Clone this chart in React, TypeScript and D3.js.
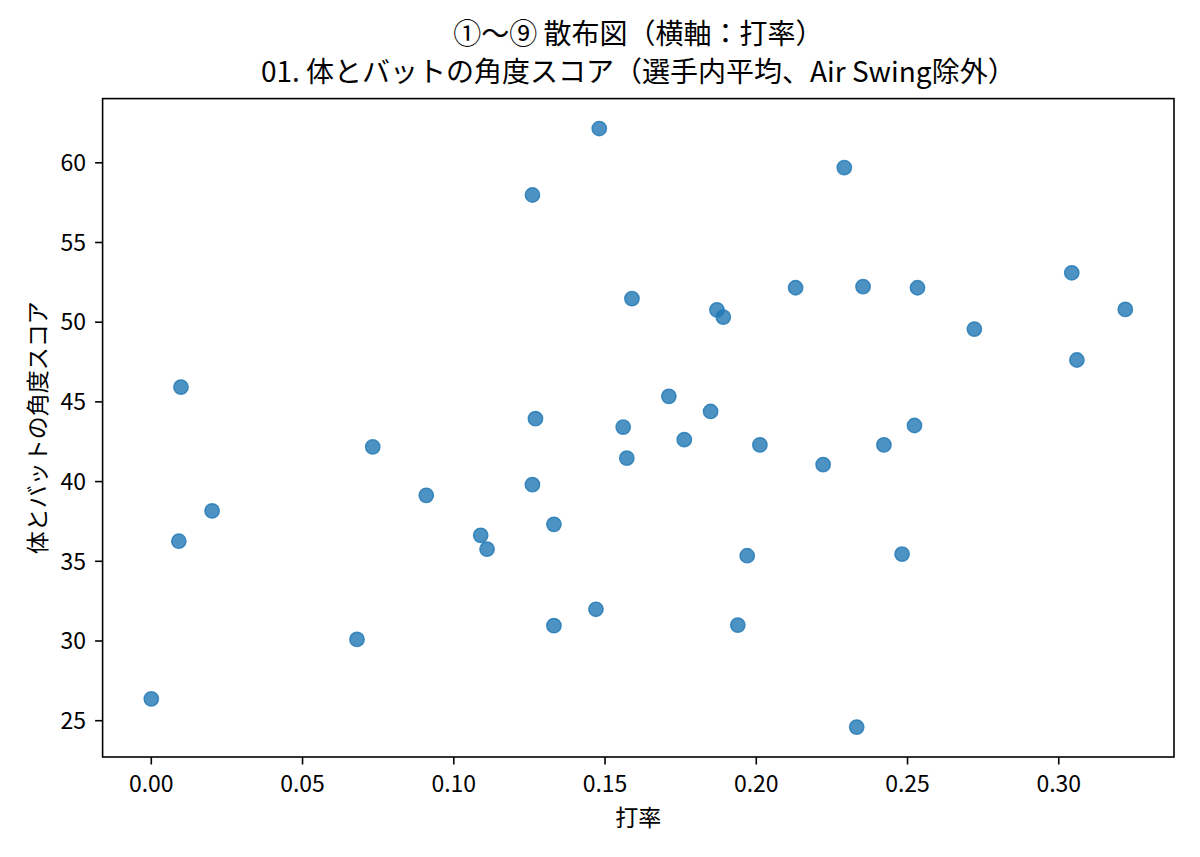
import React from "react";
import * as d3 from "d3";

const titleLines = ["①〜⑨ 散布図（横軸：打率）", "01. 体とバットの角度スコア（選手内平均、Air Swing除外）"];
const xLabel = "打率";
const yLabel = "体とバットの角度スコア";

const battingAvg = [
  0.0, 0.0091, 0.0098, 0.0201, 0.068, 0.0732, 0.0909, 0.1089, 0.111, 0.126,
  0.126, 0.127, 0.1331, 0.1331, 0.147, 0.1481, 0.156, 0.1572, 0.1589, 0.1711,
  0.1762, 0.1849, 0.187, 0.1891, 0.1939, 0.197, 0.2012, 0.213, 0.2221, 0.2291,
  0.2332, 0.2353, 0.2422, 0.2482, 0.2523, 0.2533, 0.2721, 0.3043, 0.306, 0.322,
];
const angleScore = [
  26.37, 36.26, 45.93, 38.16, 30.1, 42.18, 39.14, 36.63, 35.76, 57.98,
  39.81, 43.95, 37.32, 30.96, 31.99, 62.15, 43.42, 41.47, 51.48, 45.35,
  42.63, 44.4, 50.77, 50.32, 31.0, 35.35, 42.3, 52.16, 41.07, 59.7,
  24.6, 52.23, 42.3, 35.45, 43.52, 52.16, 49.57, 53.1, 47.63, 50.8,
];
const xTicks = [0, 0.05, 0.1, 0.15, 0.2, 0.25, 0.3];
const yTicks = [25, 30, 35, 40, 45, 50, 55, 60];

const W = 1200;
const H = 857;
const left = 102.6;
const right = 1174;
const top = 98.6;
const bottom = 757;
const FONT = "'Noto Sans CJK JP', 'Noto Sans', sans-serif";
const TICK_FS = 23;
const TITLE_FS = 28;

function padded(vals: number[]): [number, number] {
  const [a, b] = d3.extent(vals) as [number, number];
  const m = (b - a) * 0.05;
  return [a - m, b + m];
}

export default function App() {
  const x = d3.scaleLinear().domain(padded(battingAvg)).range([left, right]);
  const y = d3.scaleLinear().domain(padded(angleScore)).range([bottom, top]);
  const tickLen = 7.5;
  const fmt = d3.format(".2f");
  const cx = (left + right) / 2;
  const cy = (top + bottom) / 2;
  return (
    <svg
      width={W}
      height={H}
      style={{ position: "absolute", left: 0, top: 0, background: "#fff" }}
      fontFamily={FONT}
    >
      <rect x={0} y={0} width={W} height={H} fill="#fff" />
      {battingAvg.map((v, i) => (
        <circle
          key={i}
          cx={x(v)}
          cy={y(angleScore[i])}
          r={7.2}
          fill="#1f77b4"
          fillOpacity={0.8}
          stroke="#1f77b4"
          strokeOpacity={0.8}
          strokeWidth={1.4}
        />
      ))}
      <rect
        x={left}
        y={top}
        width={right - left}
        height={bottom - top}
        fill="none"
        stroke="#000"
        strokeWidth={1.6}
      />
      {xTicks.map((t) => (
        <g key={"x" + t}>
          <line x1={x(t)} x2={x(t)} y1={bottom} y2={bottom + tickLen} stroke="#000" strokeWidth={1.6} />
          <text x={x(t)} y={792} textAnchor="middle" fontSize={TICK_FS} fill="#000">
            {fmt(t)}
          </text>
        </g>
      ))}
      {yTicks.map((t) => (
        <g key={"y" + t}>
          <line x1={left - tickLen} x2={left} y1={y(t)} y2={y(t)} stroke="#000" strokeWidth={1.6} />
          <text x={86} y={y(t)} dy="0.36em" textAnchor="end" fontSize={TICK_FS} fill="#000">
            {t}
          </text>
        </g>
      ))}
      <text x={cx} y={826} textAnchor="middle" fontSize={TICK_FS} fill="#000">
        {xLabel}
      </text>
      <text
        transform={`translate(46,${cy}) rotate(-90)`}
        textAnchor="middle"
        fontSize={TICK_FS}
        fill="#000"
      >
        {yLabel}
      </text>
      <text x={cx} y={43.5} textAnchor="middle" fontSize={TITLE_FS} fill="#000">
        {titleLines[0]}
      </text>
      <text x={cx} y={81.5} textAnchor="middle" fontSize={TITLE_FS} fill="#000">
        {titleLines[1]}
      </text>
    </svg>
  );
}
